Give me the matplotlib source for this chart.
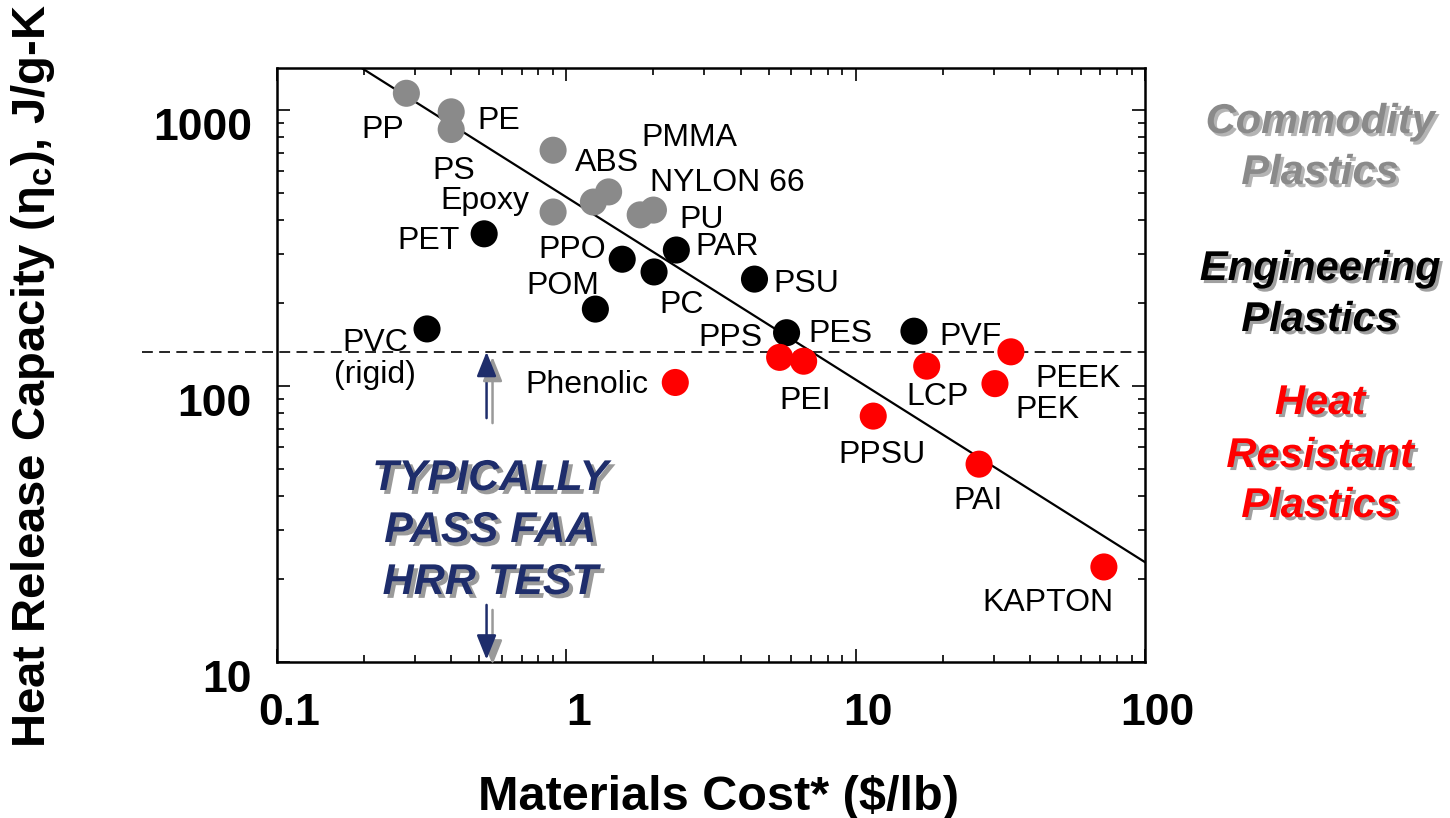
import matplotlib
matplotlib.use("Agg")
import matplotlib.pyplot as plt
import matplotlib.patheffects as pe
from matplotlib.ticker import NullFormatter
from matplotlib.transforms import ScaledTranslation

plt.rcParams['font.family'] = ['Liberation Sans', 'DejaVu Sans']
plt.rcParams['mathtext.fontset'] = 'custom'
plt.rcParams['mathtext.rm'] = 'Liberation Sans:bold'
plt.rcParams['mathtext.it'] = 'Liberation Sans:bold'
plt.rcParams['mathtext.bf'] = 'Liberation Sans:bold'

# ---- data: cost ($/lb) vs heat release capacity (J/g-K) ----
comm_names = ["PP", "PE", "PS", "ABS", "Epoxy", "", "PMMA", "NYLON 66", "PU"]
comm_cost = [0.28, 0.40, 0.40, 0.90, 0.90, 1.24, 1.40, 1.80, 2.00]
comm_hrc = [1150, 985, 850, 715, 427, 464, 505, 417, 434]

eng_names = ["PET", "PPO", "PC", "PAR", "POM", "PVC\n(rigid)", "PSU", "PES", "PVF"]
eng_cost = [0.52, 1.56, 2.01, 2.40, 1.26, 0.33, 4.47, 5.77, 15.9]
eng_hrc = [356, 288, 259, 311, 190, 161, 244, 156, 158]

hr_names = ["PPS", "PEI", "Phenolic", "LCP", "PEEK", "PEK", "PPSU", "PAI", "KAPTON"]
hr_cost = [5.46, 6.61, 2.38, 17.6, 34.4, 30.3, 11.5, 26.7, 72.1]
hr_hrc = [127, 123, 103, 118, 133, 102, 77.8, 52.1, 22.1]

# trend line end points
fit_cost = [0.19, 100]
fit_hrc = [1450, 23]

pass_limit = 133  # FAA HRR pass threshold

x_ticks = [0.1, 1, 10, 100]
x_ticklabels = ["0.1", "1", "10", "100"]
y_ticks = [10, 100, 1000]
y_ticklabels = ["10", "100", "1000"]

# label offsets from the dots (pixels, right / up)
comm_offsets = [(-24, -34), (48, -6), (3, -38), (54, -10), (-68, 14), (0, 0),
                (81, 57), (87, 35), (48, -7)]
eng_offsets = [(-56, -4), (-50, 12), (28, -30), (51, 6), (-33, 26), (-52, -27),
               (52, -2), (54, 2), (57, -3)]
hr_offsets = [(-49, 22), (2, -37), (-88, 0), (11, -28), (67, -24), (52, -23),
              (9, -36), (-1, -34), (-56, -33)]

W, H = 1450, 818
fig = plt.figure(figsize=(W / 100, H / 100), dpi=100)
ax = fig.add_axes([277 / W, 1 - 662 / H, (1145 - 277) / W, (662 - 68) / H])
ax.set_xscale('log')
ax.set_yscale('log')
ax.set_xlim(0.1, 100)
ax.set_ylim(10, 1420)

# trend line
ax.plot(fit_cost, fit_hrc, color='black', lw=1.6, zorder=2)

# pass threshold, runs out past the left spine
ax.plot([-0.156, 1.0], [pass_limit, pass_limit], transform=ax.get_yaxis_transform(),
        color='black', lw=1.2, linestyle=(0, (6.5, 3.8)), clip_on=False, zorder=2)

groups = [
    (comm_cost, comm_hrc, comm_names, comm_offsets, '#8a8a8a'),
    (eng_cost, eng_hrc, eng_names, eng_offsets, 'black'),
    (hr_cost, hr_hrc, hr_names, hr_offsets, '#ff0000'),
]
for cost, hrc, names, offs, col in groups:
    ax.scatter(cost, hrc, s=380, color=col, edgecolors='none', zorder=3)
    for x, y, name, (dx, dy) in zip(cost, hrc, names, offs):
        if name:
            ax.annotate(name, (x, y), xytext=(dx, dy - 3), textcoords='offset pixels',
                        ha='center', va='center', fontsize=23, multialignment='center',
                        linespacing=1.1, zorder=4)

# arrows around the "typically pass" note
navy = '#1e2d6b'
arrow_fx = [pe.SimpleLineShadow(offset=(4.3, -3.6), shadow_color='#999999', alpha=1, rho=1),
            pe.SimplePatchShadow(offset=(4.3, -3.6), shadow_rgbFace='#999999', alpha=1),
            pe.Normal()]
for tail, tip in [(76.5, 133), (16.1, 10.2)]:
    a = ax.annotate('', xy=(0.53, tip), xytext=(0.53, tail),
                    arrowprops=dict(arrowstyle='-|>,head_length=0.5,head_width=0.2',
                                    color=navy, lw=1.8, mutation_scale=30,
                                    shrinkA=0, shrinkB=0),
                    annotation_clip=False)
    a.arrow_patch.set_path_effects(arrow_fx)


def ptext(x, y, s, **kw):
    return fig.text(x / W, 1 - y / H, s, **kw)


note_fx = [pe.withSimplePatchShadow(offset=(2.8, -2.8), shadow_rgbFace='#9a9a9a', alpha=1)]
for line, base in [("TYPICALLY", 490), ("PASS FAA", 542), ("HRR TEST", 594)]:
    ptext(490, base, line, ha='center', va='baseline', fontsize=31, fontweight='bold',
          fontstyle='italic', color=navy, path_effects=note_fx)

# category captions on the right
cats = [
    ("Commodity", 133, '#8a8a8a', '#b4b4b4'),
    ("Plastics", 184, '#8a8a8a', '#b4b4b4'),
    ("Engineering", 280, 'black', '#a0a0a0'),
    ("Plastics", 331, 'black', '#a0a0a0'),
    ("Heat", 414, '#ff0000', '#a0a0a0'),
    ("Resistant", 467, '#ff0000', '#a0a0a0'),
    ("Plastics", 517, '#ff0000', '#a0a0a0'),
]
for s, base, col, sh in cats:
    ptext(1320, base, s, ha='center', va='baseline', fontsize=30, fontweight='bold',
          fontstyle='italic', color=col,
          path_effects=[pe.withSimplePatchShadow(offset=(2.2, -2.2), shadow_rgbFace=sh, alpha=1)])

# axis labels
ptext(718, 810, "Materials Cost* ($/lb)", ha='center', va='baseline', fontsize=35,
      fontweight='bold')
ptext(33, 376, r"Heat Release Capacity (η$_\mathbf{c}$), J/g-K", ha='center', va='center',
      rotation=90, fontsize=34, fontweight='bold')

# ticks
ax.set_xticks(x_ticks, labels=x_ticklabels)
ax.set_yticks(y_ticks, labels=y_ticklabels)
ax.xaxis.set_minor_formatter(NullFormatter())
ax.yaxis.set_minor_formatter(NullFormatter())
ax.tick_params(which='both', direction='in', top=True, right=True, width=1.2)
ax.tick_params(which='major', length=9.5)
ax.tick_params(which='minor', length=5)
ax.tick_params(axis='x', which='major', pad=22, labelsize=32)
ax.tick_params(axis='y', which='major', pad=18, labelsize=32)
for lab in ax.get_xticklabels():
    lab.set_fontweight('bold')
    lab.set_transform(lab.get_transform() + ScaledTranslation(0.12, 0, fig.dpi_scale_trans))
for lab in ax.get_yticklabels():
    lab.set_fontweight('bold')
    lab.set_transform(lab.get_transform() + ScaledTranslation(0, -0.14, fig.dpi_scale_trans))
for sp in ax.spines.values():
    sp.set_linewidth(1.8)

fig.savefig("out.png", dpi=100)
